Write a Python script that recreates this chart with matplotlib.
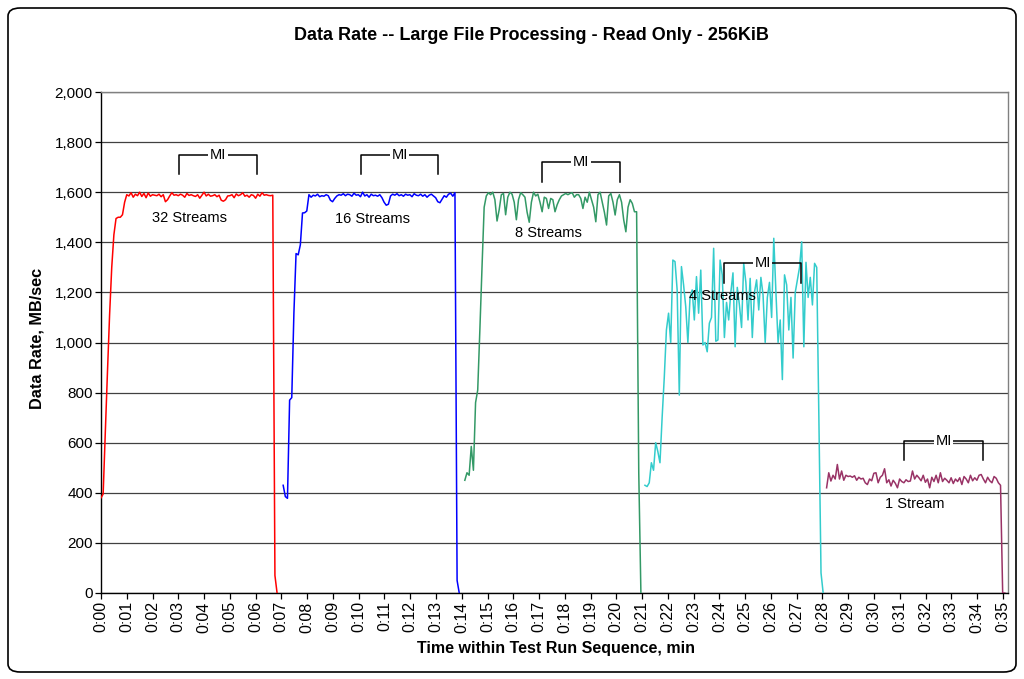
import numpy as np
import matplotlib
matplotlib.use("Agg")
import matplotlib.pyplot as plt
from matplotlib.patches import FancyBboxPatch

plt.rcParams['font.family'] = ['Liberation Sans', 'DejaVu Sans']

STEP = 1.0 / 12.0  # 5-second samples, in minutes

# ---- data (MB/sec) ----
red_start = 0.0
red_vals = [380, 395, 640, 880, 1110, 1300, 1430, 1495, 1500, 1500, 1510, 1560,
            1590, 1585, 1598, 1580, 1592, 1586, 1600, 1583, 1595, 1578,
            1597, 1584, 1590, 1588, 1586, 1592, 1582, 1590, 1562, 1570,
            1585, 1598, 1588, 1590, 1586, 1592, 1588, 1580, 1595, 1587,
            1590, 1586, 1583, 1590, 1576, 1588, 1600, 1585, 1592, 1584,
            1586, 1590, 1582, 1588, 1568, 1564, 1570, 1585, 1586, 1590,
            1578, 1593, 1586, 1590, 1598, 1584, 1588, 1580, 1590, 1587,
            1576, 1592, 1584, 1598, 1588, 1590, 1587, 1586, 1588,
            70, 0]

blue_start = 7.07
blue_vals = [430, 385, 378, 770, 780, 1118, 1355, 1350, 1390, 1517, 1518, 1525,
             1590, 1580, 1588, 1585, 1592, 1582, 1586, 1584, 1590, 1586,
             1568, 1562, 1575, 1585, 1590, 1588, 1594, 1586, 1592, 1590,
             1584, 1596, 1588, 1590, 1582, 1600, 1585, 1590, 1580, 1592,
             1586, 1588, 1584, 1590, 1578, 1560, 1548, 1552, 1585, 1592,
             1588, 1594, 1586, 1590, 1584, 1592, 1588, 1590, 1582, 1594,
             1588, 1586, 1592, 1584, 1590, 1580, 1588, 1592, 1585, 1578,
             1562, 1558, 1572, 1586, 1580, 1592, 1596, 1584,
             1598, 50, 0]

green_start = 14.12
green_vals = [450, 480, 470, 585, 490, 760, 810, 1050, 1300,
              1540, 1585, 1598, 1590, 1600, 1570, 1485, 1530, 1590, 1595,
              1510, 1580, 1600, 1592, 1560, 1490, 1570, 1598, 1590, 1580,
              1520, 1480, 1560, 1600, 1585, 1592, 1560, 1522, 1580, 1575,
              1535, 1575, 1570, 1522, 1550, 1570, 1585, 1590, 1595, 1590,
              1595, 1598, 1580, 1590, 1590, 1575, 1535, 1580, 1560, 1600,
              1570, 1540, 1482, 1590, 1600, 1560, 1520, 1469, 1585, 1595,
              1560, 1509, 1570, 1590, 1560, 1489, 1442, 1540, 1570, 1555,
              1522, 1522, 480, 0]

cyan_start = 21.11
cyan_vals = [430, 425, 440, 520, 490, 600, 565, 520, 700, 860,
             1050, 1117, 1000, 1329, 1323, 1210, 790, 1303, 1230, 1143,
             1000, 1180, 1210, 1090, 1263, 1117, 1289, 990, 1000, 963,
             1077, 1100, 1376, 1005, 1010, 1329, 1270, 1020, 1160, 1090,
             1200, 1278, 983, 1220, 1150, 1060, 1316, 1240, 1090, 1256,
             1020, 1200, 1250, 1130, 1260, 1190, 1000, 1180, 1240, 1100,
             1416, 1200, 1000, 1090, 852, 1270, 1230, 1050, 1180, 938,
             1200, 1250, 1300, 1402, 983, 1320, 1180, 1260, 1150, 1316,
             1300, 700, 80, 0]

plum_start = 28.16
plum_vals = [420, 480, 447, 470, 455, 513, 455, 487, 450, 470,
             465, 467, 462, 468, 450, 462, 455, 458, 440, 433,
             455, 448, 478, 480, 440, 462, 470, 496, 440, 452,
             427, 450, 438, 420, 455, 445, 440, 452, 445, 447,
             487, 455, 470, 460, 448, 470, 442, 455, 420, 462,
             445, 470, 440, 480, 445, 458, 450, 440, 460, 437,
             455, 445, 460, 433, 465, 455, 440, 470, 448, 460,
             450, 470, 473, 455, 440, 462, 448, 440, 465, 458,
             440, 430, 0, 0]

series_starts = [red_start, blue_start, green_start, cyan_start, plum_start]
series_vals = [red_vals, blue_vals, green_vals, cyan_vals, plum_vals]
series_colors = ['#FF0000', '#0000FF', '#339966', '#33CCCC', '#993366']

stream_labels = ['32 Streams', '16 Streams', '8 Streams', '4 Streams', '1 Stream']
label_x = [3.45, 10.52, 17.38, 24.1, 31.6]
label_y = [1497, 1493, 1437, 1186, 355]

mi_x0 = [3.03, 10.09, 17.11, 24.18, 31.16]
mi_x1 = [6.05, 13.08, 20.14, 27.16, 34.23]
mi_top = [1748, 1748, 1720, 1317, 607]
mi_bot = [1672, 1672, 1640, 1237, 531]

x_ticks = list(range(0, 36))
x_ticklabels = ["0:%02d" % m for m in x_ticks]
y_ticks = list(range(0, 2001, 200))
y_ticklabels = ["{:,}".format(v) for v in y_ticks]

# ---- figure ----
fig = plt.figure(figsize=(10.24, 6.79), dpi=100)
W, H = 1024, 679
ax = fig.add_axes([101 / W, 1 - 593 / H, (1008 - 101) / W, (593 - 92) / H])

for st, vals, col in zip(series_starts, series_vals, series_colors):
    t = st + np.arange(len(vals)) * STEP
    ax.plot(t, vals, color=col, lw=1.1, zorder=3)

ax.set_xlim(0, 35.2)
ax.set_ylim(0, 2000)
ax.set_xticks(x_ticks)
ax.set_xticklabels(x_ticklabels, rotation=90, fontsize=11.5)
ax.set_yticks(y_ticks)
ax.set_yticklabels(y_ticklabels, fontsize=11)
ax.tick_params(axis='both', direction='out', length=4, width=0.9, color='black', pad=2)
ax.yaxis.grid(True, color='#404040', lw=0.9, zorder=1)
ax.set_axisbelow(True)
for s in ['top', 'right']:
    ax.spines[s].set_color('#808080')
    ax.spines[s].set_linewidth(1.0)
for s in ['left', 'bottom']:
    ax.spines[s].set_color('black')
    ax.spines[s].set_linewidth(1.0)

for lx, ly, txt in zip(label_x, label_y, stream_labels):
    ax.text(lx, ly, txt, ha='center', va='center', fontsize=10.5, zorder=5)

for x0, x1, yt, yb in zip(mi_x0, mi_x1, mi_top, mi_bot):
    ax.plot([x0, x0, x1, x1], [yb, yt, yt, yb], color='black', lw=1.1, zorder=4)
    ax.text((x0 + x1) / 2, yt, 'MI', ha='center', va='center', fontsize=10.5,
            zorder=6, bbox=dict(facecolor='white', edgecolor='none', pad=1.0))

fig.text(531 / W, 1 - 35 / H, 'Data Rate -- Large File Processing - Read Only - 256KiB',
         ha='center', va='center', fontsize=13, fontweight='bold')
fig.text(556 / W, 1 - 648 / H, 'Time within Test Run Sequence, min',
         ha='center', va='center', fontsize=11.5, fontweight='bold')
fig.text(37 / W, 1 - 338 / H, 'Data Rate, MB/sec', rotation=90,
         ha='center', va='center', fontsize=11.7, fontweight='bold')

border = FancyBboxPatch((8 / W, 7 / H), (1016 - 8) / W, (671 - 7) / H,
                        boxstyle='round,pad=0,rounding_size=0.012',
                        transform=fig.transFigure, fill=False,
                        edgecolor='black', lw=1.2)
fig.patches.append(border)

fig.savefig('out.png', dpi=100, facecolor='white')
